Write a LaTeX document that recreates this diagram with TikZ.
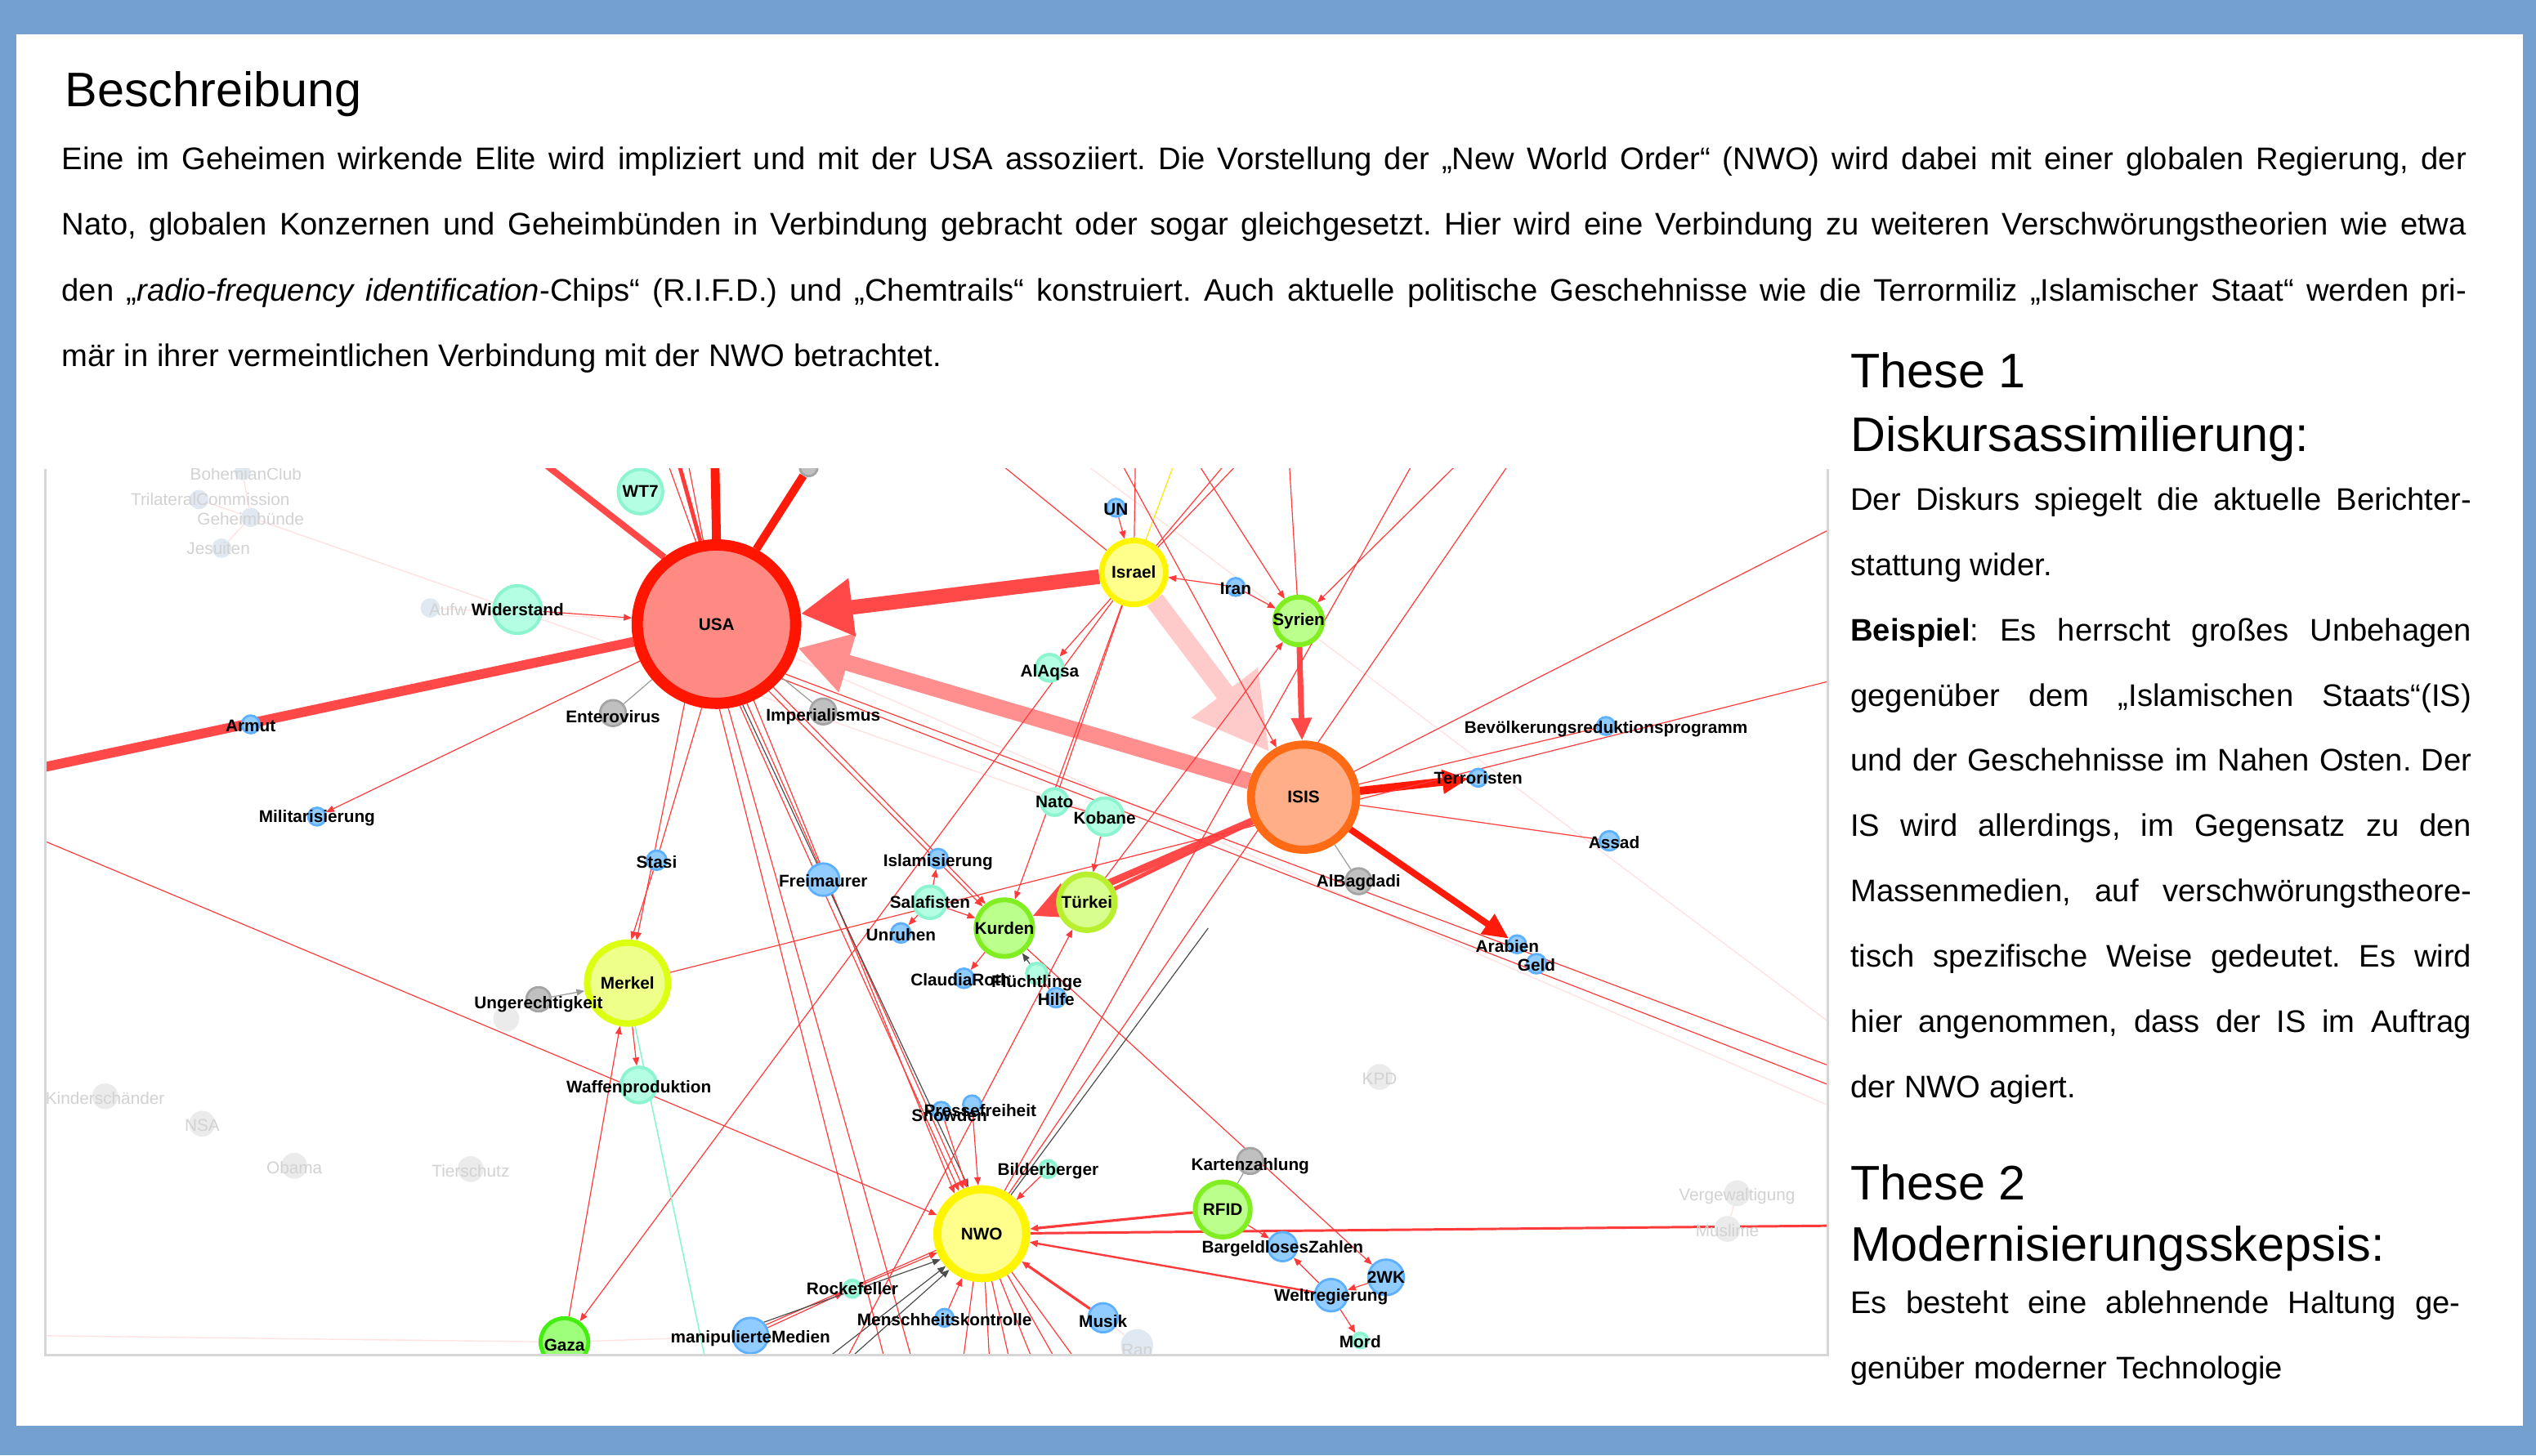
\documentclass[tikz,border=0pt]{standalone}
\usepackage{fontspec}
\setmainfont{Liberation Sans}
\usetikzlibrary{arrows.meta}
\pgfdeclarelayer{bg}
\pgfdeclarelayer{edges}
\pgfsetlayers{bg,edges,main}
\frenchspacing
\definecolor{cFrame}{HTML}{73A0CF}
\definecolor{cRed}{HTML}{FF3A3A}
\definecolor{cRedThick}{HTML}{FF4848}
\definecolor{cPink}{HTML}{FF8E8E}
\definecolor{cLightPink}{HTML}{FFCACA}
\definecolor{cBright}{HTML}{FF1A0A}
\definecolor{cUSAf}{HTML}{FF8A84}
\definecolor{cUSAd}{HTML}{FF1500}
\definecolor{cISISf}{HTML}{FFAE88}
\definecolor{cISISd}{HTML}{FF6A14}
\definecolor{cYelF}{HTML}{FFFF8C}
\definecolor{cYelD}{HTML}{FFF500}
\definecolor{cMerkF}{HTML}{EEFF8A}
\definecolor{cMerkD}{HTML}{DDFF10}
\definecolor{cTurkF}{HTML}{D8FF8E}
\definecolor{cTurkD}{HTML}{B8F030}
\definecolor{cGrnF}{HTML}{BBFF8C}
\definecolor{cGrnD}{HTML}{80EE20}
\definecolor{cGazaF}{HTML}{9EFF7A}
\definecolor{cGazaD}{HTML}{44EE11}
\definecolor{cMintF}{HTML}{B4FFE4}
\definecolor{cMintD}{HTML}{8CF5D0}
\definecolor{cBlueF}{HTML}{90CCFF}
\definecolor{cBlueD}{HTML}{5CB0FF}
\definecolor{cGrayF}{HTML}{C0C0C0}
\definecolor{cGrayD}{HTML}{A4A4A4}
\definecolor{cFadeF}{HTML}{EBEBEB}
\definecolor{cFadeB}{HTML}{E0E8F2}
\definecolor{cFadeT}{HTML}{D2D2D2}
\definecolor{cFaint}{HTML}{FFE2E2}
\definecolor{cBorder}{HTML}{D6D6D6}
\newcommand\labfont{\fontsize{10.5}{12}\selectfont\bfseries}
\newcommand\fadefont{\fontsize{10.5}{12}\selectfont}
\newcommand\bodyfont{\fontsize{19.3}{23}\selectfont}
\newcommand\headfont{\fontsize{30}{36}\selectfont}
\tikzset{
  gn/.style={circle, inner sep=0pt},
  nusa/.style={gn, fill=cUSAf, draw=cUSAd, line width=7pt, minimum size=98pt},
  nisis/.style={gn, fill=cISISf, draw=cISISd, line width=5pt, minimum size=65pt},
  nyel/.style={gn, fill=cYelF, draw=cYelD, line width=#1},
  nmerk/.style={gn, fill=cMerkF, draw=cMerkD, line width=4pt, minimum size=50pt},
  nturk/.style={gn, fill=cTurkF, draw=cTurkD, line width=3.5pt, minimum size=34.5pt},
  ngrn/.style={gn, fill=cGrnF, draw=cGrnD, line width=3pt},
  ngaza/.style={gn, fill=cGazaF, draw=cGazaD, line width=2.5pt, minimum size=29.5pt},
  nmint/.style={gn, fill=cMintF, draw=cMintD, line width=2pt, minimum size=#1},
  nblue/.style={gn, fill=cBlueF, draw=cBlueD, line width=1.4pt, minimum size=#1},
  ngray/.style={gn, fill=cGrayF, draw=cGrayD, line width=1.4pt, minimum size=#1},
  nfade/.style={gn, fill=cFadeF, minimum size=#1},
  nfadeb/.style={gn, fill=cFadeB, minimum size=#1},
  lb/.style={inner sep=0pt, font=\labfont, text=black},
  lbf/.style={inner sep=0pt, font=\fadefont, text=cFadeT},
  th/.style={draw=cRed, line width=0.6pt},
  bk/.style={draw=black!70, line width=0.6pt},
  gy/.style={draw=black!40, line width=0.6pt},
  mi/.style={draw=cMintD, line width=0.8pt},
  fa/.style={draw=cFaint, line width=0.7pt},
  ar/.style={-{Triangle[length=5pt,width=4pt]}},
  bodyline/.style={anchor=base west, inner sep=0pt, font=\bodyfont},
  headline/.style={anchor=base west, inner sep=0pt, font=\headfont},
}
\begin{document}
\begin{tikzpicture}[x=1pt,y=-1pt]
\useasboundingbox (0,0) rectangle (1568,900);
\begin{pgfonlayer}{bg}
\fill[cFrame] (0,0) rectangle (1568,900);
\fill[white] (10,21) rectangle (1560,882);
\end{pgfonlayer}

% ---------- texts ----------
\node[headline] (title) at (40,66) {Beschreibung};
\node[bodyline] (p1) at (38,105) {\makebox[1487pt][s]{Eine im Geheimen wirkende Elite wird impliziert und mit der USA assoziiert. Die Vorstellung der „New World Order“ (NWO) wird dabei mit einer globalen Regierung, der}};
\node[bodyline] (p2) at (38,145.5) {\makebox[1487pt][s]{Nato, globalen Konzernen und Geheimbünden in Verbindung gebracht oder sogar gleichgesetzt. Hier wird eine Verbindung zu weiteren Verschwörungstheorien wie etwa}};
\node[bodyline] (p3) at (38,186) {\makebox[1487pt][s]{den „\textit{radio-frequency identification}-Chips“ (R.I.F.D.) und „Chemtrails“ konstruiert. Auch aktuelle politische Geschehnisse wie die Terrormiliz „Islamischer Staat“ werden pri-}};
\node[bodyline] (p4) at (38,226.5) {mär in ihrer vermeintlichen Verbindung mit der NWO betrachtet.};

\node[headline] (h1a) at (1144,240) {These 1};
\node[headline] (h1b) at (1144,279) {Diskursassimilierung:};
\node[bodyline] (r1) at (1144,315.5) {\makebox[384pt][s]{Der Diskurs spiegelt die aktuelle Berichter-}};
\node[bodyline] (r2) at (1144,355.9) {stattung wider.};
\node[bodyline] (r3) at (1144,396.2) {\makebox[384pt][s]{\textbf{Beispiel}: Es herrscht großes Unbehagen}};
\node[bodyline] (r4) at (1144,436.6) {\makebox[384pt][s]{gegenüber dem „Islamischen Staats“(IS)}};
\node[bodyline] (r5) at (1144,476.9) {\makebox[384pt][s]{und der Geschehnisse im Nahen Osten. Der}};
\node[bodyline] (r6) at (1144,517.3) {\makebox[384pt][s]{IS wird allerdings, im Gegensatz zu den}};
\node[bodyline] (r7) at (1144,557.6) {\makebox[384pt][s]{Massenmedien, auf verschwörungstheore-}};
\node[bodyline] (r8) at (1144,598) {\makebox[384pt][s]{tisch spezifische Weise gedeutet. Es wird}};
\node[bodyline] (r9) at (1144,638.3) {\makebox[384pt][s]{hier angenommen, dass der IS im Auftrag}};
\node[bodyline] (r10) at (1144,678.7) {der NWO agiert.};
\node[headline] (h2a) at (1144,742) {These 2};
\node[headline] (h2b) at (1144,780) {Modernisierungsskepsis:};
\node[bodyline] (r11) at (1144,812.5) {\makebox[377pt][s]{Es besteht eine ablehnende Haltung ge-}};
\node[bodyline] (r12) at (1144,852.5) {genüber moderner Technologie};

% ---------- graph ----------
\begin{scope}
\clip (28,290) rectangle (1130,838);
% faded nodes
\node[nfadeb=10pt] (Bohem) at (150,292) {};
\node[nfadeb=12pt] (Trilat) at (123,309) {};
\node[nfadeb=12pt] (Geheim) at (155,320) {};
\node[nfadeb=12pt] (Jesu) at (137,339) {};
\node[nfadeb=12pt] (Aufw) at (266,376) {};
\node[nfade=16pt] (Kinder) at (65,678) {};
\node[nfade=16pt] (NSA) at (125,695) {};
\node[nfade=16pt] (Obama) at (182,721) {};
\node[nfade=16pt] (Tiers) at (291,723) {};
\node[nfade=16pt] (Dunk) at (313,630) {};
\node[nfade=16pt] (KPD) at (853,666) {};
\node[nfade=16pt] (Vergew) at (1074,738) {};
\node[nfade=16pt] (Musl) at (1068,760) {};
\node[nfadeb=20pt] (Ran) at (703,832) {};
\node[lbf] (lBohem) at (152,293) {BohemianClub};
\node[lbf] (lTrilat) at (130,309) {TrilateralCommission};
\node[lbf] (lGeheim) at (155,321) {Geheimbünde};
\node[lbf] (lJesu) at (135,339) {Jesuiten};
\node[lbf] (lAufw) at (277,377) {Aufw};
\node[lbf] (lKinder) at (65,679) {Kinderschänder};
\node[lbf] (lNSA) at (125,696) {NSA};
\node[lbf] (lObama) at (182,722) {Obama};
\node[lbf] (lTiers) at (291,724) {Tierschutz};
\node[lbf] (lKPD) at (853,667) {KPD};
\node[lbf] (lVergew) at (1074,740) {Vergewaltigung};
\node[lbf] (lMusl) at (1068,761) {Muslime};
\node[lbf] (lRan) at (703,835) {Ran};

% main nodes
\node[nusa] (USA) at (443,386) {};
\node[nisis] (ISIS) at (806,493) {};
\node[nyel=5pt, minimum size=55pt] (NWO) at (607,763) {};
\node[nyel=3.5pt, minimum size=39.5pt] (Israel) at (701,354) {};
\node[nmerk] (Merkel) at (388,608) {};
\node[nturk] (Tuerkei) at (672,558) {};
\node[ngrn, minimum size=35pt] (Kurden) at (621,574) {};
\node[ngrn, minimum size=29.5pt] (Syrien) at (803,384) {};
\node[ngrn, minimum size=34pt] (RFID) at (756,748) {};
\node[ngaza] (Gaza) at (349,830) {};
\node[nmint=27.5pt] (WT7) at (396,304) {};
\node[nmint=29.5pt] (Wider) at (320,377) {};
\node[nmint=23pt] (Kobane) at (683,505) {};
\node[nmint=16.5pt] (Nato) at (652,496) {};
\node[nmint=16.5pt] (AlAqsa) at (649,413) {};
\node[nmint=20pt] (Salaf) at (575,558) {};
\node[nmint=22pt] (Waffen) at (395,671) {};
\node[nmint=12.5pt] (Fluecht) at (641,602) {};
\node[nmint=10.5pt] (Bilderb) at (648,723) {};
\node[nmint=10.5pt] (Rockef) at (527,797) {};
\node[nmint=9pt] (Mord) at (841,829) {};
\node[nblue=11pt] (UN) at (690,314) {};
\node[nblue=11pt] (Iran) at (764,363) {};
\node[nblue=11pt] (Armut) at (155,448) {};
\node[nblue=11pt] (Milit) at (196,505) {};
\node[nblue=12pt] (Stasi) at (406,532) {};
\node[nblue=20pt] (Freim) at (509,544) {};
\node[nblue=12pt] (Islam) at (580,531) {};
\node[nblue=12pt] (Unruhen) at (557,577) {};
\node[nblue=12pt] (Claudia) at (596,605) {};
\node[nblue=12pt] (Hilfe) at (653,617) {};
\node[nblue=11pt] (Terror) at (914,481) {};
\node[nblue=11pt] (Bevoelk) at (993,449) {};
\node[nblue=12pt] (Assad) at (995,520) {};
\node[nblue=11pt] (Arabien) at (938,584) {};
\node[nblue=12pt] (Geld) at (950,596) {};
\node[nblue=11pt] (Snowden) at (582,687) {};
\node[nblue=11pt] (Pressef) at (601,683) {};
\node[nblue=18pt] (Bargeld) at (793,771) {};
\node[nblue=22pt] (ZweiWK) at (857,790) {};
\node[nblue=20pt] (Weltreg) at (823,801) {};
\node[nblue=18pt] (Musik) at (682,815) {};
\node[nblue=22pt] (Manip) at (464,826) {};
\node[nblue=11pt] (Menschh) at (584,815) {};
\node[ngray=16pt] (Entero) at (379,441) {};
\node[ngray=16pt] (Imper) at (509,440) {};
\node[ngray=16pt] (AlBag) at (840,545) {};
\node[ngray=15pt] (Ungerecht) at (333,618) {};
\node[ngray=16pt] (Kartenz) at (773,718) {};
\node[ngray=11pt] (TopGray) at (500,289) {};

% off-graph end points
\coordinate (LA) at (20,476);
\coordinate (LE2) at (20,517);
\coordinate (LB) at (20,826);
\coordinate (TU1) at (333,284);
\coordinate (TU2) at (419,284);
\coordinate (TU2b) at (412,284);
\coordinate (TU2c) at (425,284);
\coordinate (TU3) at (442,284);
\coordinate (TI1) at (615,284);
\coordinate (TI2) at (702,284);
\coordinate (TI3) at (727,284);
\coordinate (TI4) at (760,284);
\coordinate (TI5) at (768,284);
\coordinate (TI6) at (692,284);
\coordinate (TS1) at (739,284);
\coordinate (TS2) at (797,284);
\coordinate (TS3) at (904,284);
\coordinate (TT1) at (875,284);
\coordinate (TT2) at (935,284);
\coordinate (TopF) at (667,284);
\coordinate (BKe) at (747,574);
\coordinate (RE1) at (1136,325);
\coordinate (RE2) at (1136,420);
\coordinate (RE3) at (1136,758);
\coordinate (REa) at (1136,661);
\coordinate (REb) at (1136,673);
\coordinate (RF1) at (1136,636);
\coordinate (RF2) at (1136,686);
\coordinate (B1) at (565,845);
\coordinate (B2) at (548,845);
\coordinate (B3) at (595,845);
\coordinate (B4) at (612,845);
\coordinate (B5) at (625,845);
\coordinate (B6) at (640,845);
\coordinate (B7) at (655,845);
\coordinate (B8) at (668,845);
\coordinate (B9) at (521,845);
\coordinate (B10) at (437,845);
\coordinate (BB1) at (505,845);
\coordinate (BB2) at (520,845);

\begin{pgfonlayer}{edges}
\clip (28,290) rectangle (1130,838);
% faint
\draw[fa] (Bohem) -- (Geheim) -- (Jesu);
\draw[fa] (Trilat) -- (Geheim);
\draw[fa] (Geheim) -- (Kobane);
\draw[fa] (Aufw) -- (USA);
\draw[fa] (TopF) -- (RF1);
\draw[fa] (USA) -- (RF2);
\draw[fa] (LB) -- (Gaza) -- (Manip);
\draw[fa] (Musik) -- (Ran);
\draw[fa] (Vergew) -- (Musl);
% thick
\draw[line width=6pt, cRedThick] (LA) -- (USA);
\draw[line width=4pt, cRedThick] (USA.128) -- (TU1);
\draw[line width=2.5pt, cRed] (USA.101) -- (TU2);
\draw[th] (USA.104) -- (TU2b);
\draw[th] (USA.99) -- (TU2c);
\draw[line width=5.5pt, cBright] (USA.90) -- (TU3);
\draw[line width=5pt, cBright] (USA.62) -- (TopGray);
\draw[line width=12pt, cLightPink, -{Triangle[length=46pt,width=48pt]}] (Israel) -- (ISIS);
\draw[line width=10pt, cPink, -{Triangle[length=32pt,width=36pt]}] (ISIS) -- (USA);
\draw[line width=9pt, cRedThick, -{Triangle[length=32pt,width=34pt]}] (Israel) -- (USA);
\draw[line width=3.5pt, cRedThick, -{Triangle[length=14pt,width=12pt]}] (Syrien) -- (ISIS);
\draw[line width=5pt, cBright, -{Triangle[length=16pt,width=14pt]}] (ISIS) -- (Terror);
\draw[line width=4pt, cBright, -{Triangle[length=16pt,width=14pt]}] (ISIS) -- (Arabien);
\draw[line width=2.5pt, cRedThick] (ISIS) -- (Tuerkei);
\draw[line width=4.5pt, cRedThick, -{Triangle[length=24pt,width=22pt]}] (ISIS.205) -- (Kurden);
% USA thin
\draw[th,ar] (Wider) -- (USA);
\draw[th,ar] (USA) -- (Milit);
\draw[th,ar] (USA.-112) -- (Merkel.78);
\draw[th] (USA.-100) -- (Stasi);
\draw[th,ar] (Stasi) -- (Merkel.85);
\draw[th,ar] (USA.-74) -- (NWO.118);
\draw[th,ar] (USA.-69) -- (NWO.112);
\draw[th,ar] (USA.-64) -- (NWO.124);
\draw[bk,ar] (USA.-72) -- (NWO.106);
\draw[th,ar] (USA.-52) -- (Kurden.135);
\draw[th,ar] (USA.-48) -- (Kurden.128);
\draw[th] (USA.-36) -- (REa);
\draw[th] (USA.-40) -- (REb);
\draw[th] (USA.-82) -- (B1);
\draw[th] (USA.-88) -- (B2);
\draw[gy] (Entero) -- (USA);
\draw[gy] (Imper) -- (USA);
% left / right long lines
\draw[th,ar] (LE2) -- (NWO);
\draw[th] (RE1) -- (ISIS);
\draw[th] (Merkel) -- (RE2);
\draw[th] (ISIS) -- (Bevoelk);
\draw[th] (ISIS) -- (Assad);
\draw[gy] (ISIS) -- (AlBag);
\draw[line width=1.5pt, cRed] (RE3) -- (NWO);
% NWO area
\draw[line width=1.6pt, cRed, ar] (RFID) -- (NWO);
\draw[line width=1.2pt, cRed, ar] (Weltreg) -- (NWO);
\draw[line width=1.6pt, cRed, ar] (Musik) -- (NWO);
\draw[th,ar] (RFID) -- (Bargeld);
\draw[th,ar] (Weltreg) -- (Bargeld);
\draw[th,ar] (ZweiWK) -- (Weltreg);
\draw[th,ar] (Weltreg) -- (Mord);
\draw[th,ar] (Kurden) -- (ZweiWK);
\draw[gy] (RFID) -- (Kartenz);
\draw[th,ar] (Bilderb) -- (NWO);
\draw[th,ar] (Pressef) -- (NWO);
\draw[th,ar] (Snowden) -- (NWO);
\draw[th,ar] (Menschh) -- (NWO);
\draw[th,ar] (Manip) -- (Rockef);
\draw[th,ar] (Rockef) -- (NWO);
\draw[th] (Manip.35) -- (NWO.200);
\draw[bk,ar] (Manip.45) -- (NWO.212);
\draw[bk,ar] (BB1) -- (NWO.222);
\draw[bk,ar] (BB2) -- (NWO.228);
\draw[th] (NWO.-100) -- (B3);
\draw[th] (NWO.-86) -- (B4);
\draw[th] (NWO.-78) -- (B5);
\draw[th] (NWO.-68) -- (B6);
\draw[th] (NWO.-58) -- (B7);
\draw[th] (NWO.-52) -- (B8);
\draw[th] (NWO.62) -- (TT1);
\draw[th] (NWO.56) -- (TT2);
\draw[bk] (NWO.53) -- (BKe);
\draw[th,ar] (B9) -- (Tuerkei);
% Merkel area
\draw[th,ar] (Gaza) -- (Merkel);
\draw[th,ar] (Israel) -- (Gaza);
\draw[th,ar] (Merkel) -- (Waffen);
\draw[mi] (Merkel.-80) -- (B10);
\draw[gy,ar] (Ungerecht) -- (Merkel);
% Israel / Syrien area
\draw[th,ar] (UN) -- (Israel);
\draw[th,ar] (Iran) -- (Israel);
\draw[th,ar] (Iran) -- (Syrien);
\draw[th,ar] (Israel) -- (AlAqsa);
\draw[th] (Israel) -- (Nato);
\draw[th,ar] (Israel) -- (Kurden);
\draw[th] (TI1) -- (Israel);
\draw[th] (TI2) -- (Israel);
\draw[draw=yellow!90!orange, line width=0.6pt] (TI3) -- (Israel);
\draw[th] (TI4) -- (Israel);
\draw[th] (TI5) -- (Israel);
\draw[th,ar] (TI6) -- (ISIS);
\draw[th,ar] (TS1) -- (Syrien);
\draw[th] (TS2) -- (Syrien);
\draw[th,ar] (TS3) -- (Syrien);
\draw[th,ar] (Tuerkei) -- (Syrien);
\draw[th,ar] (Kobane) -- (Tuerkei);
\draw[th] (Nato) -- (Kobane);
\draw[th,ar] (Salaf) -- (Islam);
\draw[th,ar] (Salaf) -- (Unruhen);
\draw[th,ar] (Salaf) -- (Kurden);
\draw[th,ar] (Kurden) -- (Claudia);
\draw[bk,ar] (Fluecht) -- (Kurden);
\draw[th] (Hilfe) -- (Fluecht);
\end{pgfonlayer}

% labels
\node[lb] (lUSA) at (443,386) {USA};
\node[lb] (lISIS) at (806,493) {ISIS};
\node[lb] (lNWO) at (607,763) {NWO};
\node[lb] (lIsrael) at (701,354) {Israel};
\node[lb] (lMerkel) at (388,608) {Merkel};
\node[lb] (lTuerkei) at (672,558) {Türkei};
\node[lb] (lKurden) at (621,574) {Kurden};
\node[lb] (lSyrien) at (803,384) {Syrien};
\node[lb] (lRFID) at (756,748) {RFID};
\node[lb] (lGaza) at (349,832) {Gaza};
\node[lb] (lWT7) at (396,304) {WT7};
\node[lb] (lWider) at (320,377) {Widerstand};
\node[lb] (lKobane) at (683,506) {Kobane};
\node[lb] (lNato) at (652,496) {Nato};
\node[lb] (lAlAqsa) at (649,416) {AlAqsa};
\node[lb] (lSalaf) at (575,558) {Salafisten};
\node[lb] (lWaffen) at (395,673) {Waffenproduktion};
\node[lb] (lFluecht) at (641,608) {Flüchtlinge};
\node[lb] (lBilderb) at (648,724) {Bilderberger};
\node[lb] (lRockef) at (527,797) {Rockefeller};
\node[lb] (lMord) at (841,830) {Mord};
\node[lb] (lUN) at (690,315) {UN};
\node[lb] (lIran) at (764,364) {Iran};
\node[lb] (lArmut) at (155,449) {Armut};
\node[lb] (lMilit) at (196,506) {Militarisierung};
\node[lb] (lStasi) at (406,533) {Stasi};
\node[lb] (lFreim) at (509,545) {Freimaurer};
\node[lb] (lIslam) at (580,533) {Islamisierung};
\node[lb] (lUnruhen) at (557,578) {Unruhen};
\node[lb] (lClaudia) at (594,606) {ClaudiaRoth};
\node[lb] (lHilfe) at (653,618) {Hilfe};
\node[lb] (lTerror) at (914,481) {Terroristen};
\node[lb] (lBevoelk) at (993,451) {Bevölkerungsreduktionsprogramm};
\node[lb] (lAssad) at (998,521) {Assad};
\node[lb] (lArabien) at (932,585) {Arabien};
\node[lb] (lGeld) at (950,597) {Geld};
\node[lb] (lSnowden) at (587,690) {Snowden};
\node[lb] (lPressef) at (606,687) {Pressefreiheit};
\node[lb] (lBargeld) at (793,772) {BargeldlosesZahlen};
\node[lb] (lZweiWK) at (857,790) {2WK};
\node[lb] (lWeltreg) at (823,802) {Weltregierung};
\node[lb] (lMusik) at (682,817) {Musik};
\node[lb] (lManip) at (464,828) {manipulierteMedien};
\node[lb] (lMenschh) at (584,816) {Menschheitskontrolle};
\node[lb] (lEntero) at (379,443) {Enterovirus};
\node[lb] (lImper) at (509,443) {Imperialismus};
\node[lb] (lAlBag) at (840,546) {AlBagdadi};
\node[lb] (lUngerecht) at (333,621) {Ungerechtigkeit};
\node[lb] (lKartenz) at (773,721) {Kartenzahlung};
\end{scope}
\draw[cBorder, line width=1.5pt] (28,290) -- (28,838) -- (1130,838) -- (1130,290);
\end{tikzpicture}
\end{document}
